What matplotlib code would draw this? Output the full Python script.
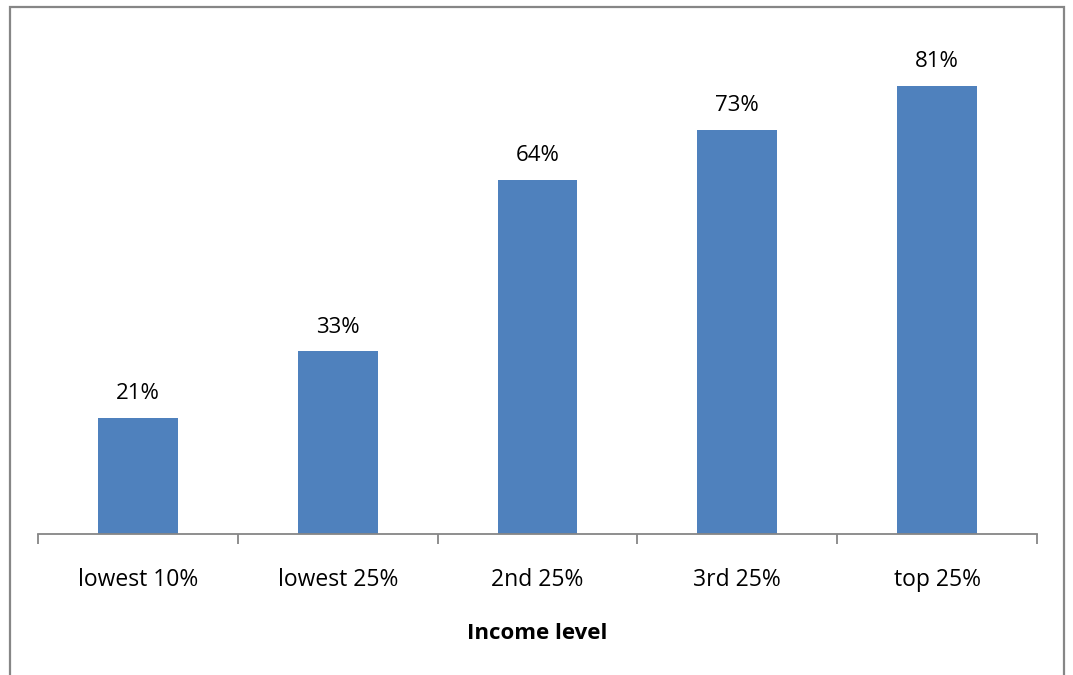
import matplotlib
matplotlib.use("Agg")
import matplotlib.pyplot as plt
from matplotlib.patches import Rectangle

categories = ["lowest 10%", "lowest 25%", "2nd 25%", "3rd 25%", "top 25%"]
values = [21, 33, 64, 73, 81]
value_labels = ["21%", "33%", "64%", "73%", "81%"]
x_title = "Income level"

W, H = 1073, 675
fig = plt.figure(figsize=(W / 100, H / 100), dpi=100)
plt.rcParams["font.family"] = ["Open Sans", "DejaVu Sans"]

# chart frame (bottom edge falls outside the canvas)
fig.patches.append(Rectangle((9.5 / W, -0.05), (1063.5 - 9.5) / W, 1.05 - 6.5 / H,
                             transform=fig.transFigure, fill=False,
                             edgecolor="#868686", linewidth=1.6))

ax = fig.add_axes([38 / W, 141 / H, (1037 - 38) / W, (534 - 36) / H])
x = list(range(len(categories)))
ax.bar(x, values, width=0.4, color="#4F81BD", zorder=2)
ax.set_xlim(-0.5, len(categories) - 0.5)
ax.set_ylim(0, 90)

for xi, v, lab in zip(x, values, value_labels):
    ax.annotate(lab, (xi, v), xytext=(0, 10), textcoords="offset points",
                ha="center", va="bottom", fontsize=16, color="black")

for s in ["top", "right", "left"]:
    ax.spines[s].set_visible(False)
ax.spines["bottom"].set_color("#868686")
ax.spines["bottom"].set_linewidth(1.3)
ax.set_yticks([])

# boundary ticks between categories
ax.set_xticks([i - 0.5 for i in range(len(categories) + 1)], minor=False)
ax.set_xticklabels([])
ax.tick_params(axis="x", which="major", length=7, width=1.3, color="#868686", direction="out")
ax.set_xticks(x, minor=True)
ax.set_xticklabels(categories, minor=True, fontsize=16.5)
ax.tick_params(axis="x", which="minor", length=0, pad=24.5)

ax.set_xlabel(x_title, fontsize=16, fontweight="bold", labelpad=22)

fig.savefig("out.png", dpi=100)
